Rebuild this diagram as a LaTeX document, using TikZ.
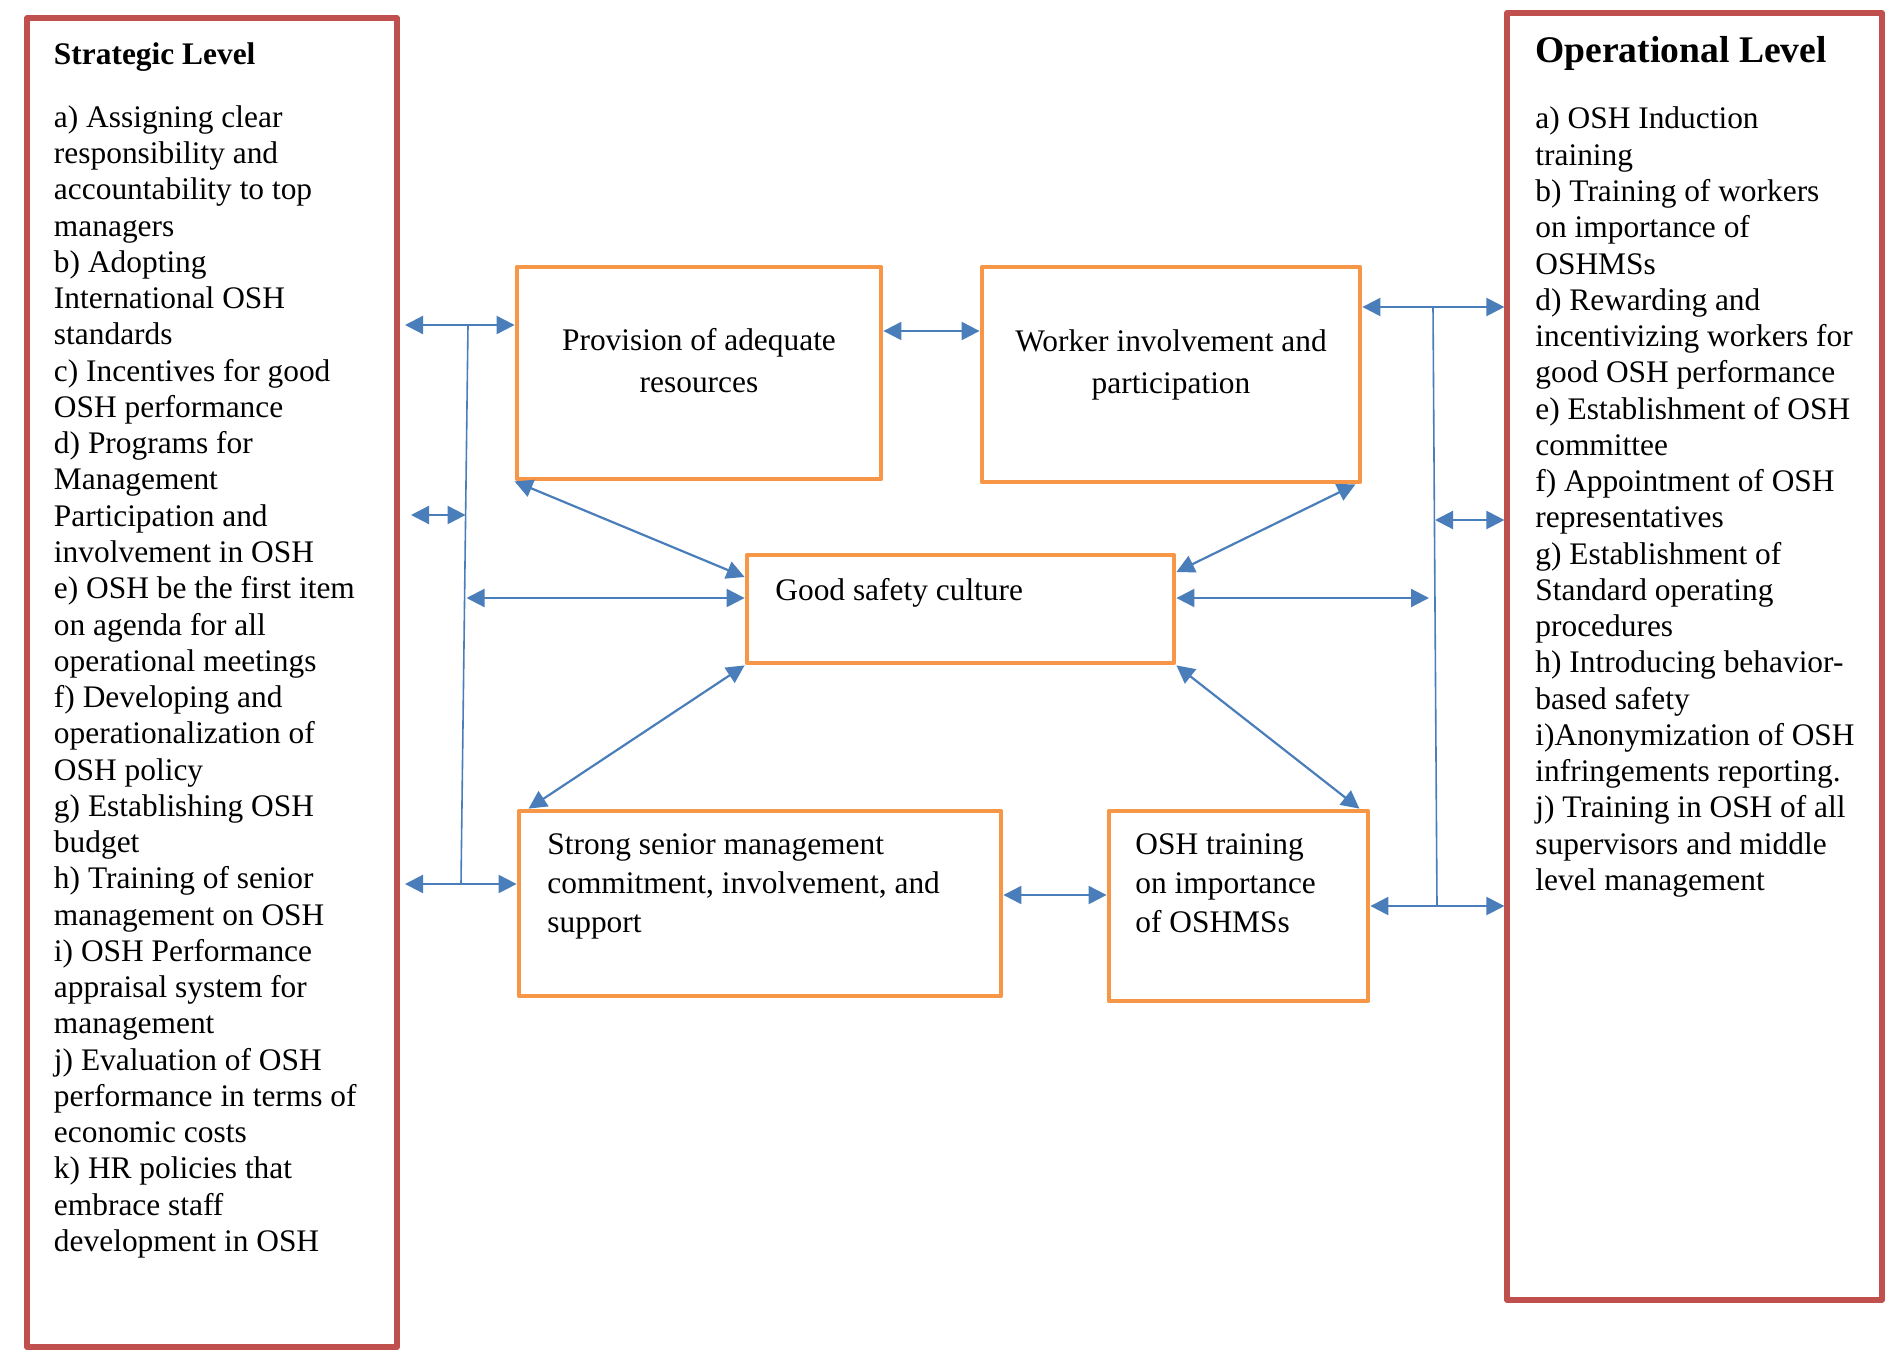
\documentclass[tikz,border=0pt]{standalone}
\usepackage{fontspec}
\setmainfont{Liberation Serif}
\usetikzlibrary{arrows.meta,calc}
\definecolor{levelred}{HTML}{C0504D}
\definecolor{boxorange}{HTML}{F79646}
\definecolor{linkblue}{HTML}{4A7EBB}
\begin{document}
\begin{tikzpicture}[x=0.5pt,y=-0.5pt,
  levelbox/.style={draw=levelred, line width=2.6pt, line join=round, rectangle, inner sep=0pt},
  factorbox/.style={draw=boxorange, line width=2.4pt, line join=round, rectangle, inner sep=0pt},
  link/.style={draw=linkblue, line width=1.1pt, {Triangle[length=9pt,width=9pt]}-{Triangle[length=9pt,width=9pt]}},
  bus/.style={draw=linkblue, line width=0.8pt},
  listtext/.style={inner sep=0pt, anchor=north west, align=left, font=\fontsize{15.7}{18.13}\selectfont},
  boxtext/.style={inner sep=0pt, align=center, anchor=north},
  boxtextleft/.style={inner sep=0pt, align=left, anchor=north west, font=\fontsize{15.7}{19.5}\selectfont},
  titletext/.style={inner sep=0pt, anchor=base west}
]
\fill[white] (0,0) rectangle (1902,1366);
\useasboundingbox (0,0) rectangle (1902,1366);

% level boxes
\node[levelbox, minimum width=185pt, minimum height=664.5pt, outer xsep=4pt] (L) at (212,682.5) {};
\node[levelbox, minimum width=187.5pt, minimum height=643.5pt] (R) at (1694.5,656.5) {};

\node[titletext, font=\bfseries\fontsize{15.7}{18}\selectfont] (Ltitle) at (53.6,64) {Strategic Level};
\node[titletext, font=\bfseries\fontsize{18.8}{22}\selectfont] (Rtitle) at (1535,62.5) {Operational Level};

\node[listtext] (Llist) at (53.6,101.6) {\strut a) Assigning clear\\
responsibility and\\
accountability to top\\
managers\\
b) Adopting\\
International OSH\\
standards\\
c) Incentives for good\\
OSH performance\\
d) Programs for\\
Management\\
Participation and\\
involvement in OSH\\
e) OSH be the first item\\
on agenda for all\\
operational meetings\\
f) Developing and\\
operationalization of\\
OSH policy\\
g) Establishing OSH\\
budget\\
h) Training of senior\\
management on OSH\\
i) OSH Performance\\
appraisal system for\\
management\\
j) Evaluation of OSH\\
performance in terms of\\
economic costs\\
k) HR policies that\\
embrace staff\\
development in OSH};

\node[listtext] (Rlist) at (1535,103.2) {\strut a) OSH Induction\\
training\\
b) Training of workers\\
on importance of\\
OSHMSs\\
d) Rewarding and\\
incentivizing workers for\\
good OSH performance\\
e) Establishment of OSH\\
committee\\
f) Appointment of OSH\\
representatives\\
g) Establishment of\\
Standard operating\\
procedures\\
h) Introducing behavior-\\
based safety\\
i)Anonymization of OSH\\
infringements reporting.\\
j) Training in OSH of all\\
supervisors and middle\\
level management};

% factor boxes
\node[factorbox, minimum width=182pt, minimum height=106pt] (P) at (699,373) {};
\node[factorbox, minimum width=189pt, minimum height=107.5pt] (W) at (1171,374.5) {};
\node[factorbox, minimum width=213.5pt, minimum height=54pt] (G) at (960.5,609) {};
\node[factorbox, minimum width=241pt, minimum height=92.5pt] (S) at (760,903.5) {};
\node[factorbox, minimum width=129.5pt, minimum height=95pt] (T) at (1238.5,906) {};

\node[boxtext, font=\fontsize{15.7}{20.85}\selectfont] (Ptext) at (699,320.8) {\strut Provision of adequate\\resources};
\node[boxtext, font=\fontsize{15.7}{21}\selectfont] (Wtext) at (1171,321.3) {\strut Worker involvement and\\participation};
\node[titletext, font=\fontsize{15.7}{18}\selectfont] (Gtext) at (775,600) {Good safety culture};
\node[boxtextleft] (Stext) at (547,827.2) {\strut Strong senior management\\commitment, involvement, and\\support};
\node[boxtextleft] (Ttext) at (1135,827.2) {\strut OSH training\\on importance\\of OSHMSs};

% bus coordinates
\coordinate (lbt) at (468,325);
\coordinate (lbb) at (461,884);
\coordinate (lbm) at (465.6,515);
\coordinate (lbg) at (466.5,598);
\coordinate (rbt) at (1433,307);
\coordinate (rbb) at (1437,906);
\coordinate (rbm) at (1435,520);
\coordinate (rbg) at (1429,598);
\coordinate (pw) at (930,331);
\coordinate (st) at (1055,895);
\coordinate (gl) at (745,577);
\coordinate (gr) at (1177,572);

% left side
\draw[bus] (lbt) -- (lbb);
\draw[link] (L.east |- lbt) -- (P.west |- lbt);
\draw[link] ($(L.east |- lbm)+(3pt,0)$) -- (lbm);
\draw[link] (lbg) -- (G.west |- lbg);
\draw[link] (L.east |- lbb) -- (S.west |- lbb);

% right side
\draw[bus] (rbt) -- (rbb);
\draw[link] (W.east |- rbt) -- (R.west |- rbt);
\draw[link] (rbm) -- (R.west |- rbm);
\draw[link] (G.east |- rbg) -- (rbg);
\draw[link] (T.east |- rbb) -- (R.west |- rbb);

% middle
\draw[link] (P.east |- pw) -- (W.west |- pw);
\draw[link] (S.east |- st) -- (T.west |- st);
\draw[link] (P.south west) -- (G.west |- gl);
\draw[link] ($(W.south east)+(-3.5pt,0)$) -- (G.east |- gr);
\draw[link] (G.south west) -- ($(S.north west)+(6pt,0)$);
\draw[link] (G.south east) -- ($(T.north east)+(-5.5pt,0)$);
\end{tikzpicture}
\end{document}
